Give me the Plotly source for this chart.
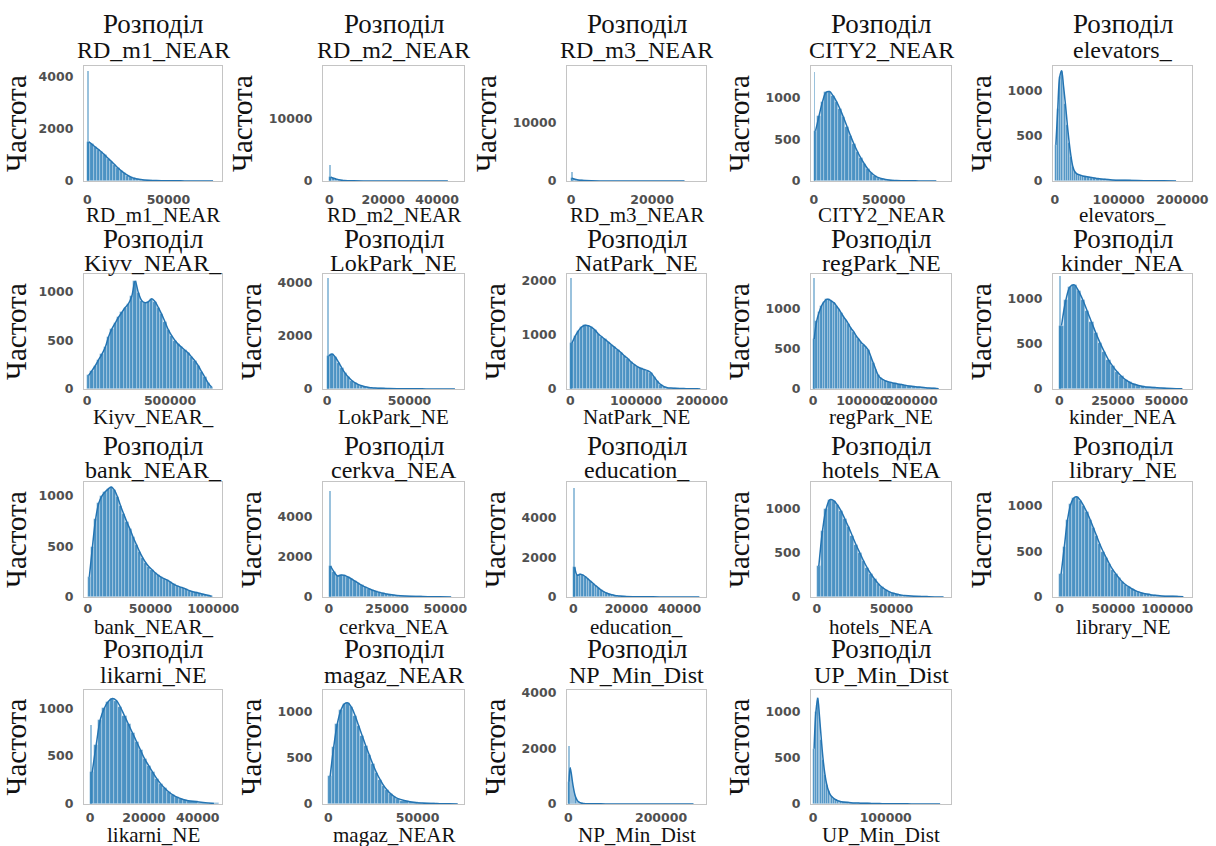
import plotly.graph_objects as go


def bins(*segments):
    """Bin edges built from (start, stop, step) segments."""
    edges = []
    for start, stop, step in segments:
        for e in range(start, stop + 1, step):
            if not edges or e > edges[-1]:
                edges.append(e)
    return edges


# ---- histogram data: bin edges, bar heights, height of the zero-distance bin ----
RD_M1_EDGES = bins((0, 40000, 2000), (40000, 80000, 5000))
RD_M1_COUNTS = [1500, 1400, 1300, 1200, 1100, 980, 860, 740, 620, 500, 390, 290, 210, 150, 105, 75, 55, 40, 30, 22,
                15, 10, 7, 5, 3, 2, 2, 1]
RD_M1_SPIKE = 4200

RD_M2_EDGES = [0, 1000, 2000, 3000, 4000, 5000, 6000, 8000, 10000, 15000, 20000, 30000, 40000, 48000]
RD_M2_COUNTS = [600, 450, 300, 200, 130, 80, 50, 30, 15, 8, 4, 2, 1]
RD_M2_SPIKE = 2600

RD_M3_EDGES = [0, 500, 1000, 1500, 2000, 3000, 4000, 6000, 8000, 12000, 16000, 24000, 32000]
RD_M3_COUNTS = [500, 350, 250, 180, 110, 70, 40, 20, 10, 5, 2, 1]
RD_M3_SPIKE = 1500

CITY2_EDGES = bins((0, 60000, 2500), (60000, 90000, 5000))
CITY2_COUNTS = [600, 780, 950, 1060, 1070, 1020, 950, 860, 760, 650, 540, 440, 350, 270, 200, 140, 95, 62, 40, 26,
                17, 11, 7, 5, 3, 2, 2, 1, 1, 1]
CITY2_SPIKE = 1300

ELEV_EDGES = bins((0, 45000, 3000), (45000, 80000, 5000), (80000, 200000, 20000))
ELEV_COUNTS = [400, 800, 1150, 1220, 1050, 850, 620, 420, 260, 150, 100, 80, 70, 62, 56,
               50, 44, 38, 32, 27, 22, 18, 12, 8, 5, 3, 2, 1]
ELEV_SPIKE = None

KIYV_EDGES = bins((0, 760000, 20000))
KIYV_COUNTS = [140, 190, 240, 300, 360, 430, 540, 620, 680, 740, 790, 840, 880, 960, 1110, 990, 910, 890, 900, 930,
               900, 840, 770, 690, 610, 550, 500, 460, 430, 400, 370, 330, 290, 240, 180, 120, 60, 20]
KIYV_SPIKE = None

LOKPARK_EDGES = bins((0, 30000, 2000), (30000, 80000, 5000))
LOKPARK_COUNTS = [1250, 1320, 1200, 1000, 780, 590, 440, 320, 230, 165, 120, 85, 60, 45, 35,
                  25, 18, 13, 10, 7, 5, 4, 3, 2, 1]
LOKPARK_SPIKE = 4200

NATPARK_EDGES = bins((0, 200000, 5000))
NATPARK_COUNTS = [850, 980, 1080, 1150, 1180, 1170, 1140, 1090, 1020, 970, 920, 870, 820, 770, 720, 670, 610, 560,
                  500, 450, 410, 380, 360, 340, 300, 220, 140, 80, 45, 25, 18, 14, 11, 9, 7, 6, 5, 4, 3, 2]
NATPARK_SPIKE = 2050

REGPARK_EDGES = bins((0, 150000, 5000), (150000, 260000, 10000))
REGPARK_COUNTS = [620, 840, 950, 1030, 1080, 1110, 1110, 1090, 1070, 1030, 990, 940, 890, 850, 800, 750, 710, 660,
                  620, 580, 550, 520, 480, 400, 320, 240, 170, 135, 115, 100,
                  85, 72, 60, 48, 38, 30, 24, 18, 12, 8, 4]
REGPARK_SPIKE = 1370

KINDER_EDGES = bins((0, 40000, 2000), (40000, 60000, 5000))
KINDER_COUNTS = [700, 980, 1130, 1150, 1080, 980, 860, 740, 620, 510, 410, 320, 250, 190, 140, 100, 72, 52, 38, 28,
                 18, 10, 5, 2]
KINDER_SPIKE = 1250

BANK_EDGES = bins((0, 100000, 2500))
BANK_COUNTS = [200, 500, 770, 930, 1000, 1040, 1070, 1090, 1060, 990, 900, 820, 740, 670, 590, 520, 450, 390, 340,
               300, 270, 240, 215, 195, 180, 165, 145, 125, 110, 98, 88, 75, 62, 52, 45, 38, 30, 22, 15, 8]
BANK_SPIKE = None

CERKVA_EDGES = bins((0, 30000, 1500), (30000, 55000, 5000))
CERKVA_COUNTS = [1550, 1250, 1050, 1100, 1080, 1000, 900, 790, 680, 580, 490, 410, 340, 280, 230, 185, 150, 120,
                 95, 75, 50, 30, 18, 10, 5]
CERKVA_SPIKE = 5300

EDU_EDGES = bins((0, 20000, 1000), (20000, 50000, 5000))
EDU_COUNTS = [1500, 1100, 1150, 1120, 1030, 920, 800, 680, 560, 450, 350, 270, 200, 150, 110, 80, 60, 45, 35, 28,
              18, 10, 6, 4, 2, 1]
EDU_SPIKE = 5500

HOTELS_EDGES = bins((0, 60000, 2500), (60000, 90000, 10000))
HOTELS_COUNTS = [350, 750, 1000, 1100, 1090, 1040, 970, 880, 790, 690, 590, 500, 410, 330, 260, 200, 150, 110, 80,
                 58, 42, 30, 22, 16, 9, 4, 1]
HOTELS_SPIKE = None

LIBRARY_EDGES = bins((0, 90000, 3000), (90000, 120000, 10000))
LIBRARY_COUNTS = [250, 550, 850, 1020, 1090, 1100, 1060, 1000, 930, 850, 760, 670, 580, 500, 430, 360, 300, 250,
                  205, 165, 135, 110, 88, 70, 56, 45, 36, 29, 23, 18, 12, 7, 3]
LIBRARY_SPIKE = None

LIKARNI_EDGES = bins((0, 36000, 1500), (36000, 48000, 4000))
LIKARNI_COUNTS = [330, 620, 880, 1000, 1070, 1100, 1080, 1010, 920, 830, 740, 650, 560, 470, 400, 330, 265, 210,
                  165, 125, 95, 72, 55, 42, 28, 15, 6]
LIKARNI_SPIKE = 820

MAGAZ_EDGES = bins((0, 40000, 2000), (40000, 75000, 5000))
MAGAZ_COUNTS = [300, 620, 870, 1020, 1090, 1100, 1050, 960, 850, 740, 630, 530, 430, 340, 265, 200, 150, 110, 80,
                58, 38, 20, 11, 6, 4, 2, 1]
MAGAZ_SPIKE = None

NP_EDGES = bins((0, 40000, 2500), (40000, 280000, 20000))
NP_COUNTS = [800, 1300, 1100, 800, 550, 350, 220, 140, 90, 60, 42, 30, 22, 16, 12, 10,
             7, 5, 4, 3, 3, 2, 2, 2, 1, 1, 1, 1]
NP_SPIKE = 2100

UP_EDGES = bins((0, 40000, 2500), (40000, 180000, 10000))
UP_COUNTS = [600, 1000, 1150, 950, 700, 480, 320, 210, 140, 100, 75, 58, 46, 37, 30, 25,
             18, 12, 9, 7, 5, 4, 3, 2, 2, 1, 1, 1, 1, 1]
UP_SPIKE = None

PANELS = [
    ("RD_m1_NEAR", RD_M1_EDGES, RD_M1_COUNTS, RD_M1_SPIKE),
    ("RD_m2_NEAR", RD_M2_EDGES, RD_M2_COUNTS, RD_M2_SPIKE),
    ("RD_m3_NEAR", RD_M3_EDGES, RD_M3_COUNTS, RD_M3_SPIKE),
    ("CITY2_NEAR", CITY2_EDGES, CITY2_COUNTS, CITY2_SPIKE),
    ("elevators_", ELEV_EDGES, ELEV_COUNTS, ELEV_SPIKE),
    ("Kiyv_NEAR_", KIYV_EDGES, KIYV_COUNTS, KIYV_SPIKE),
    ("LokPark_NE", LOKPARK_EDGES, LOKPARK_COUNTS, LOKPARK_SPIKE),
    ("NatPark_NE", NATPARK_EDGES, NATPARK_COUNTS, NATPARK_SPIKE),
    ("regPark_NE", REGPARK_EDGES, REGPARK_COUNTS, REGPARK_SPIKE),
    ("kinder_NEA", KINDER_EDGES, KINDER_COUNTS, KINDER_SPIKE),
    ("bank_NEAR_", BANK_EDGES, BANK_COUNTS, BANK_SPIKE),
    ("cerkva_NEA", CERKVA_EDGES, CERKVA_COUNTS, CERKVA_SPIKE),
    ("education_", EDU_EDGES, EDU_COUNTS, EDU_SPIKE),
    ("hotels_NEA", HOTELS_EDGES, HOTELS_COUNTS, HOTELS_SPIKE),
    ("library_NE", LIBRARY_EDGES, LIBRARY_COUNTS, LIBRARY_SPIKE),
    ("likarni_NE", LIKARNI_EDGES, LIKARNI_COUNTS, LIKARNI_SPIKE),
    ("magaz_NEAR", MAGAZ_EDGES, MAGAZ_COUNTS, MAGAZ_SPIKE),
    ("NP_Min_Dist", NP_EDGES, NP_COUNTS, NP_SPIKE),
    ("UP_Min_Dist", UP_EDGES, UP_COUNTS, UP_SPIKE),
]

# axis limits and ticks for each panel
X_RANGES = [(-2000, 83000), (-2400, 50000), (-1000, 33300), (-2000, 98000), (-3000, 215000),
            (-18000, 813000), (-2500, 83000), (-5000, 206000), (-4000, 280000), (-3000, 62000),
            (-3000, 107000), (-2500, 58000), (-2400, 50000), (-4000, 90000), (-6000, 123000),
            (-2300, 49000), (-3000, 76000), (-3000, 297000), (-3000, 190000)]
X_TICKS = [[0, 50000], [0, 20000, 40000], [0, 20000], [0, 50000], [0, 100000, 200000],
           [0, 500000], [0, 50000], [0, 100000, 200000], [0, 100000, 200000], [0, 25000, 50000],
           [0, 50000, 100000], [0, 25000, 50000], [0, 20000, 40000], [0, 50000], [0, 50000, 100000],
           [0, 20000, 40000], [0, 50000], [0, 200000], [0, 100000]]
Y_MAX = [4400, 18500, 19800, 1376, 1272, 1186, 4340, 2130, 1425, 1270,
         1140, 5750, 5820, 1300, 1264, 1190, 1240, 4100, 1240]
Y_DTICK = [2000, 10000, 10000, 500, 500, 500, 2000, 1000, 500, 500,
           500, 2000, 2000, 500, 500, 500, 500, 2000, 500]

# page geometry (pixels)
W, H = 1216, 846
ROWS = [(66, 181), (274, 389), (482, 597), (690, 804)]
COLS = [(84, 222), (323, 464), (567, 706), (811, 951), (1053, 1192)]
# offsets of the two title lines above each box, of the x tick labels and of the x label below it
TITLE_GAP = [(42, 16), (35, 11), (36, 12), (41, 15)]
XTICK_STANDOFF = [7, 0, 0, 2]
XLABEL_GAP = [34, 28, 30, 31]

BAR_FILL = "rgba(31,119,180,0.8)"
BAR_EDGE = "rgba(255,255,255,0.45)"
KDE_COLOR = "#2474b2"
SERIF = "Liberation Serif"
TEXT = "#111111"

fig = go.Figure()
layout = dict(
    width=W, height=H, margin=dict(l=0, r=0, t=0, b=0),
    paper_bgcolor="white", plot_bgcolor="white",
    showlegend=False, bargap=0, barmode="overlay",
)
annotations = []

for i, (name, edges, counts, spike) in enumerate(PANELS):
    r, c = divmod(i, 5)
    top, bottom = ROWS[r]
    left, right = COLS[c]
    sfx = "" if i == 0 else str(i + 1)
    xa, ya = "x" + sfx, "y" + sfx

    lefts = edges[:-1]
    widths = [b - a for a, b in zip(edges[:-1], edges[1:])]
    centers = [a + w / 2 for a, w in zip(lefts, widths)]

    fig.add_trace(go.Bar(
        x=lefts, y=counts, width=widths, offset=0,
        marker=dict(color=BAR_FILL, line=dict(color=BAR_EDGE, width=0.6)),
        xaxis=xa, yaxis=ya, hoverinfo="skip"))

    if spike is not None:
        span = X_RANGES[i][1] - X_RANGES[i][0]
        fig.add_trace(go.Bar(
            x=[0], y=[spike], width=[span * 0.012], offset=0,
            marker=dict(color="rgba(31,119,180,0.45)", line=dict(width=0)),
            xaxis=xa, yaxis=ya, hoverinfo="skip"))

    fig.add_trace(go.Scatter(
        x=centers, y=counts, mode="lines",
        line=dict(color=KDE_COLOR, width=1.5, shape="spline", smoothing=1.0),
        xaxis=xa, yaxis=ya, hoverinfo="skip"))

    axis_common = dict(
        showline=True, mirror=True, linecolor="#c4c4c4", linewidth=1.3,
        showgrid=False, zeroline=False, ticks="", automargin=False,
        tickfont=dict(family="DejaVu Sans", size=12.5, color="#505050", weight="bold"),
    )
    layout["xaxis" + sfx] = dict(
        axis_common, domain=[left / W, right / W], anchor=ya,
        range=list(X_RANGES[i]), tickmode="array", tickvals=X_TICKS[i],
        ticktext=[str(v) for v in X_TICKS[i]], tickangle=0,
        ticklabelstandoff=XTICK_STANDOFF[r],
    )
    layout["yaxis" + sfx] = dict(
        axis_common, domain=[1 - bottom / H, 1 - top / H], anchor=xa,
        range=[0, Y_MAX[i]], tick0=0, dtick=Y_DTICK[i], tickformat="d",
        ticklabelstandoff=7,
        title=dict(text="Частота", font=dict(family=SERIF, size=29, color=TEXT), standoff=7),
    )

    cx = (left + right) / 2 / W
    gap1, gap2 = TITLE_GAP[r]
    annotations.append(dict(
        text="Розподіл", x=cx, y=1 - (top - gap1) / H, xref="paper", yref="paper",
        xanchor="center", yanchor="middle", showarrow=False,
        font=dict(family=SERIF, size=27, color=TEXT)))
    annotations.append(dict(
        text=name, x=cx, y=1 - (top - gap2) / H, xref="paper", yref="paper",
        xanchor="center", yanchor="middle", showarrow=False,
        font=dict(family=SERIF, size=24, color=TEXT)))
    annotations.append(dict(
        text=name, x=cx, y=1 - (bottom + XLABEL_GAP[r]) / H, xref="paper", yref="paper",
        xanchor="center", yanchor="middle", showarrow=False,
        font=dict(family=SERIF, size=21, color=TEXT)))

layout["annotations"] = annotations
fig.update_layout(**layout)
fig.write_html("out.html")
